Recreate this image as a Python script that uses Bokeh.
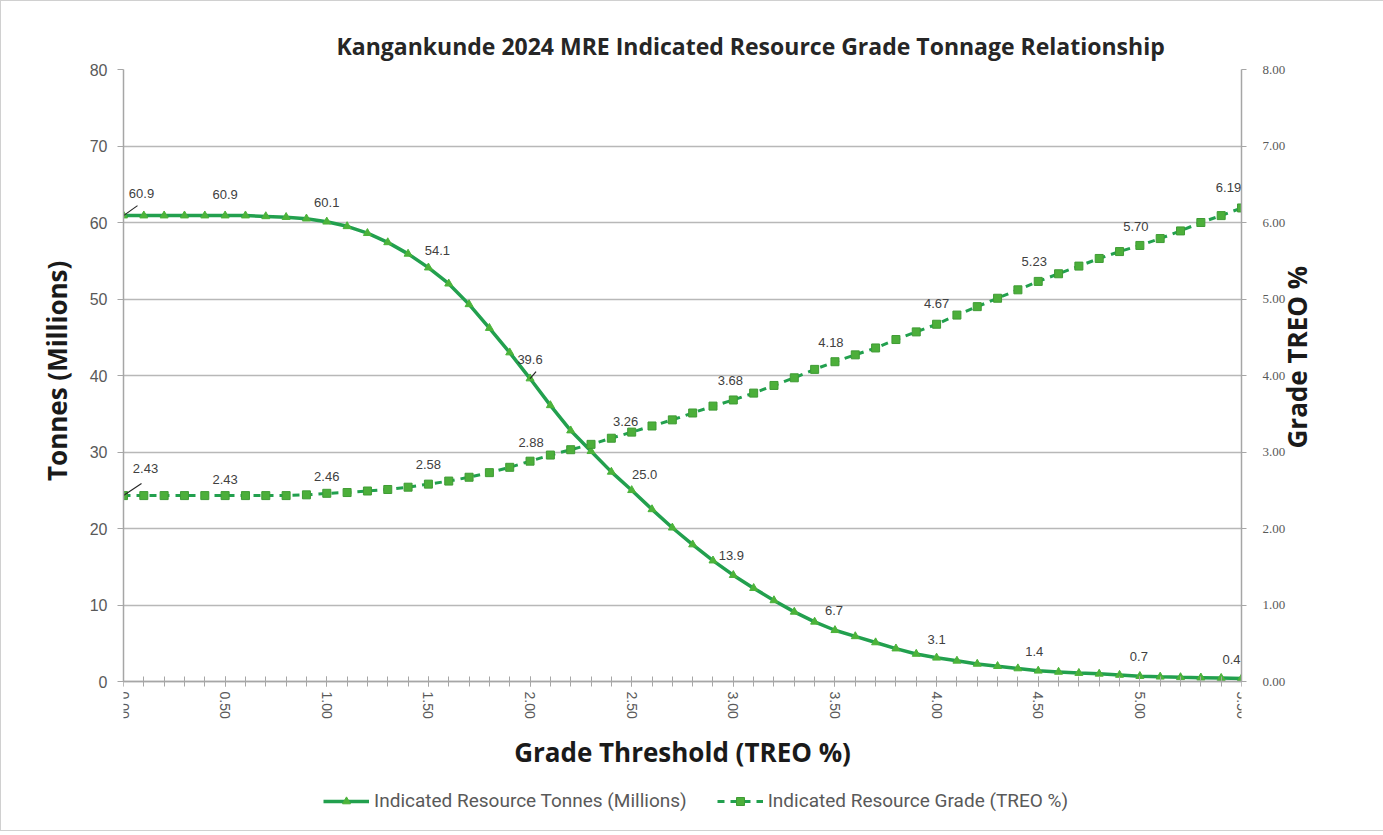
import math
from bokeh.plotting import figure
from bokeh.models import (Range1d, LinearAxis, FixedTicker, PrintfTickFormatter,
                          ColumnDataSource, Legend, LegendItem, Title, LabelSet)
from bokeh.core.properties import value
from bokeh.embed import file_html
from bokeh.resources import INLINE

# ---------------- data ----------------
threshold = [0.0, 0.1, 0.2, 0.3, 0.4, 0.5, 0.6, 0.7, 0.8, 0.9,
             1.0, 1.1, 1.2, 1.3, 1.4, 1.5, 1.6, 1.7, 1.8, 1.9,
             2.0, 2.1, 2.2, 2.3, 2.4, 2.5, 2.6, 2.7, 2.8, 2.9,
             3.0, 3.1, 3.2, 3.3, 3.4, 3.5, 3.6, 3.7, 3.8, 3.9,
             4.0, 4.1, 4.2, 4.3, 4.4, 4.5, 4.6, 4.7, 4.8, 4.9,
             5.0, 5.1, 5.2, 5.3, 5.4, 5.5]
tonnes = [60.9, 60.9, 60.9, 60.9, 60.9, 60.9, 60.9, 60.8, 60.7, 60.5,
          60.1, 59.5, 58.6, 57.4, 55.9, 54.1, 52.0, 49.3, 46.2, 43.0,
          39.6, 36.1, 32.8, 30.1, 27.4, 25.0, 22.5, 20.1, 17.9, 15.8,
          13.9, 12.2, 10.6, 9.1, 7.8, 6.7, 5.9, 5.1, 4.3, 3.6,
          3.1, 2.7, 2.3, 2.0, 1.7, 1.4, 1.25, 1.1, 1.0, 0.85,
          0.7, 0.62, 0.55, 0.5, 0.45, 0.4]
grade = [2.43, 2.43, 2.43, 2.43, 2.43, 2.43, 2.43, 2.43, 2.43, 2.44,
         2.46, 2.47, 2.49, 2.51, 2.54, 2.58, 2.62, 2.67, 2.73, 2.80,
         2.88, 2.96, 3.03, 3.10, 3.18, 3.26, 3.34, 3.42, 3.51, 3.60,
         3.68, 3.77, 3.87, 3.97, 4.08, 4.18, 4.27, 4.36, 4.47, 4.57,
         4.67, 4.79, 4.90, 5.01, 5.12, 5.23, 5.33, 5.43, 5.53, 5.62,
         5.70, 5.79, 5.89, 6.00, 6.09, 6.19]
x_ticks = [0.0, 0.5, 1.0, 1.5, 2.0, 2.5, 3.0, 3.5, 4.0, 4.5, 5.0, 5.5]
left_ticks = [0, 10, 20, 30, 40, 50, 60, 70, 80]
right_ticks = [0, 1, 2, 3, 4, 5, 6, 7, 8]
label_every = 5  # data labels every 0.5 %

# label offsets (pixels, x right / y up) for data labels
t_dx = [18, 0, 0, 9, 0, 13, -2, -1, 0, -4, -1, -10]
t_dy = [22, 21, 19, 17, 19, 16, 20, 20, 18, 19, 20, 19]
g_dx = [22, 0, 0, 0, 1, -6, -3, -4, 0, -4, -4, -13]
g_dy = [27, 16, 17, 20, 19, 11, 19, 19, 21, 20, 19, 20]

TONNE_LINE = "#22A04E"
TONNE_MARK = "#4CB33A"
GRADE_LINE = "#22A04E"
GRADE_MARK = "#4CAF3A"
TXT = "#595959"
AXIS_FONT = "Open Sans"

# layout: the data area (0..80) is 612 px tall; the frame extends below it
# so that the axis title and legend sit inside the canvas.
DATA_H = 612
EXTRA_H = 146
T_MAX, G_MAX = 80.0, 8.0
t_min = -T_MAX * EXTRA_H / DATA_H
g_min = -G_MAX * EXTRA_H / DATA_H

p = figure(frame_width=1118, frame_height=DATA_H + EXTRA_H, output_backend="svg",
           toolbar_location=None,
           x_range=Range1d(0, 5.5), y_range=Range1d(t_min, T_MAX),
           min_border_left=122, min_border_right=143, min_border_top=68,
           min_border_bottom=3)
p.title = Title(text="Kangankunde 2024 MRE Indicated Resource Grade Tonnage Relationship",
                align="left", offset=213, text_font="Open Sans",
                text_font_size="23px", text_font_style="bold", text_color="#262626",
                standoff=16)
p.outline_line_color = None
p.background_fill_color = "white"
p.border_fill_color = "white"
p.styles = {"border": "1px solid #d0d0d0"}

# grid
p.xgrid.visible = False
p.ygrid.ticker = FixedTicker(ticks=left_ticks)
p.ygrid.grid_line_color = "#b8b8b8"
p.ygrid.grid_line_width = 1.5

# bottom axis (fixed at tonnes = 0)
xa = p.xaxis[0]
xa.fixed_location = 0
xa.ticker = FixedTicker(ticks=x_ticks, minor_ticks=threshold)
xa.formatter = PrintfTickFormatter(format="%.2f")
xa.major_label_orientation = "vertical"
xa.axis_line_color = "#a6a6a6"
xa.axis_line_width = 1.5
xa.major_tick_line_color = "#a6a6a6"
xa.minor_tick_line_color = "#a6a6a6"
xa.major_tick_in = 5
xa.major_tick_out = 5
xa.minor_tick_in = 5
xa.minor_tick_out = 5
xa.major_label_text_font = "Liberation Sans"
xa.major_label_text_font_size = "14px"
xa.major_label_text_color = TXT
xa.major_label_standoff = 5
xa.axis_label = "Grade Threshold (TREO %)"
xa.axis_label_text_font = AXIS_FONT
xa.axis_label_text_font_size = "26px"
xa.axis_label_text_font_style = "bold"
xa.axis_label_text_color = "#1a1a1a"
xa.axis_label_standoff = 12

# left axis (leading no-break spaces lift the centred title onto the data area)
ya = p.yaxis[0]
ya.bounds = (0, T_MAX)
ya.ticker = FixedTicker(ticks=left_ticks)
ya.formatter = PrintfTickFormatter(format="%d")
ya.axis_line_color = "#a6a6a6"
ya.axis_line_width = 1.5
ya.major_tick_line_color = "#a6a6a6"
ya.major_tick_in = 0
ya.major_tick_out = 6
ya.minor_tick_line_color = None
ya.major_label_text_font = "Liberation Sans"
ya.major_label_text_font_size = "16px"
ya.major_label_text_color = TXT
ya.major_label_standoff = 10
ya.axis_label = "\u00a0" * 23 + "Tonnes (Millions)"
ya.axis_label_text_font = AXIS_FONT
ya.axis_label_text_font_size = "26px"
ya.axis_label_text_font_style = "bold"
ya.axis_label_text_color = "#1a1a1a"
ya.axis_label_standoff = 12

# right axis
p.extra_y_ranges = {"grade": Range1d(g_min, G_MAX)}
ra = LinearAxis(y_range_name="grade", ticker=FixedTicker(ticks=right_ticks),
                formatter=PrintfTickFormatter(format="%.2f"), bounds=(0, G_MAX))
ra.axis_line_color = "#a6a6a6"
ra.axis_line_width = 1.5
ra.major_tick_line_color = "#a6a6a6"
ra.major_tick_in = 0
ra.major_tick_out = 5
ra.minor_tick_line_color = None
ra.major_label_text_font = "Liberation Serif"
ra.major_label_text_font_size = "13px"
ra.major_label_text_color = TXT
ra.major_label_standoff = 16
p.add_layout(ra, "right")

# right axis title (separate bare axis so it reads bottom-to-top)
ra2 = LinearAxis(y_range_name="grade", ticker=FixedTicker(ticks=[]), bounds=(0, G_MAX))
ra2.axis_line_color = None
ra2.major_tick_line_color = None
ra2.minor_tick_line_color = None
ra2.major_tick_out = 0
ra2.major_label_standoff = 0
ra2.axis_label = "Grade TREO %"
ra2.axis_label_text_font = AXIS_FONT
ra2.axis_label_text_font_size = "26px"
ra2.axis_label_text_font_style = "bold"
ra2.axis_label_text_color = "#1a1a1a"
ra2.axis_label_standoff = 8
ra2.axis_label_orientation = math.pi / 2
p.add_layout(ra2, "right")

src = ColumnDataSource(dict(x=threshold, t=tonnes, g=grade))

# tonnes series
t_line = p.line("x", "t", source=src, line_color=TONNE_LINE, line_width=3.5)
t_mark = p.scatter("x", "t", source=src, marker="triangle", size=8,
                   fill_color=TONNE_MARK, line_color=TONNE_MARK)

# grade series
g_line = p.line("x", "g", source=src, y_range_name="grade", line_color=GRADE_LINE,
                line_width=3, line_dash="7 6")
g_mark = p.scatter("x", "g", source=src, y_range_name="grade", marker="square", size=8,
                   fill_color=GRADE_MARK, line_color="#3E9B34")

# data labels
lx = threshold[::label_every]
lt = tonnes[::label_every]
lg = grade[::label_every]
tsrc = ColumnDataSource(dict(x=lx, y=lt, txt=["%.1f" % v for v in lt], dx=t_dx, dy=t_dy))
gsrc = ColumnDataSource(dict(x=lx, y=lg, txt=["%.2f" % v for v in lg], dx=g_dx, dy=g_dy))
p.add_layout(LabelSet(x="x", y="y", text="txt", source=tsrc, x_offset="dx", y_offset="dy",
                      text_align="center", text_baseline="middle",
                      text_font=value("Liberation Sans"), text_font_size="13px",
                      text_color="#404040"))
p.add_layout(LabelSet(x="x", y="y", text="txt", source=gsrc, x_offset="dx", y_offset="dy",
                      y_range_name="grade", text_align="center", text_baseline="middle",
                      text_font=value("Liberation Sans"), text_font_size="13px",
                      text_color="#404040"))

# leader lines (from point towards moved label)
xpx = 1118 / 5.5
ypx_t = DATA_H / T_MAX
ypx_g = DATA_H / G_MAX
p.segment(x0=[lx[0], lx[4]], y0=[lt[0], lt[4]],
          x1=[lx[0] + 14 / xpx, lx[4] + 6 / xpx], y1=[lt[0] + 10 / ypx_t, lt[4] + 7 / ypx_t],
          line_color="#262626", line_width=1.2)
p.segment(x0=[lx[0]], y0=[lg[0]], x1=[lx[0] + 18 / xpx], y1=[lg[0] + 12 / ypx_g],
          y_range_name="grade", line_color="#262626", line_width=1.2)

legend = Legend(items=[
    LegendItem(label="Indicated Resource Tonnes (Millions)", renderers=[t_line, t_mark]),
    LegendItem(label="Indicated Resource Grade (TREO %)", renderers=[g_line, g_mark]),
], orientation="horizontal", location=(200, 15), padding=0, margin=0,
    spacing=30, glyph_width=46, glyph_height=20, label_height=20, label_standoff=5,
    label_text_font="Roboto", label_text_font_size="19px",
    label_text_color=TXT, border_line_color=None, background_fill_alpha=0)
p.add_layout(legend, "center")

open("out.html", "w").write(file_html(p, INLINE))
